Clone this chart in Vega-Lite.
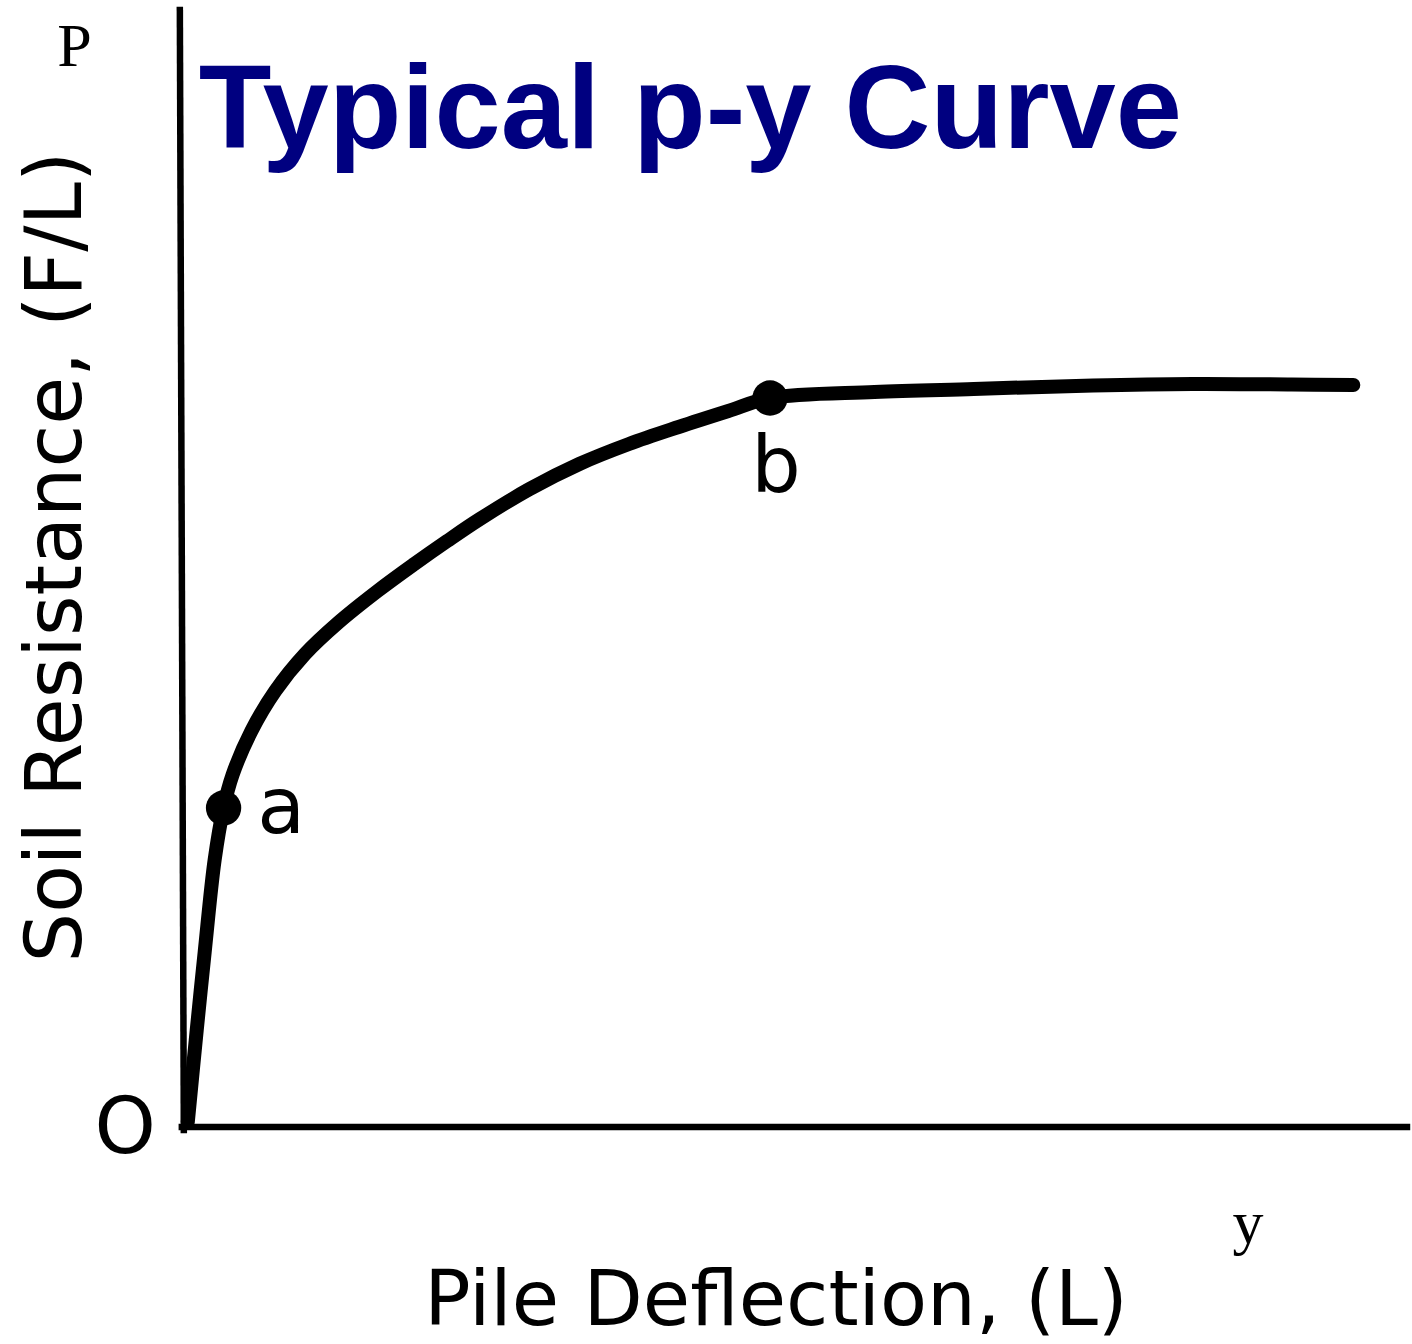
{
  "$schema": "https://vega.github.io/schema/vega-lite/v6.json",
  "width": 1412,
  "height": 1344,
  "autosize": {"type": "fit", "contains": "padding"},
  "padding": 0,
  "background": "white",
  "view": {"stroke": null},
  "datasets": {
    "curve": [
      {"deflection": 0.3, "resistance": 0.5},
      {"deflection": 1.2, "resistance": 9.7},
      {"deflection": 2.0, "resistance": 17.5},
      {"deflection": 3.0, "resistance": 26.7},
      {"deflection": 3.9, "resistance": 31.9},
      {"deflection": 4.8, "resistance": 35.2},
      {"deflection": 6.7, "resistance": 39.6},
      {"deflection": 9.1, "resistance": 43.6},
      {"deflection": 12.1, "resistance": 47.3},
      {"deflection": 15.4, "resistance": 50.4},
      {"deflection": 19.4, "resistance": 53.6},
      {"deflection": 23.1, "resistance": 56.3},
      {"deflection": 26.4, "resistance": 58.6},
      {"deflection": 29.7, "resistance": 60.8},
      {"deflection": 34.7, "resistance": 63.8},
      {"deflection": 39.7, "resistance": 66.3},
      {"deflection": 44.7, "resistance": 68.3},
      {"deflection": 49.7, "resistance": 70.0},
      {"deflection": 54.7, "resistance": 71.6},
      {"deflection": 58.9, "resistance": 72.9},
      {"deflection": 69.4, "resistance": 73.5},
      {"deflection": 79.4, "resistance": 73.8},
      {"deflection": 91.4, "resistance": 74.15},
      {"deflection": 101.4, "resistance": 74.3},
      {"deflection": 111.4, "resistance": 74.25},
      {"deflection": 117.6, "resistance": 74.2}
    ],
    "points": [
      {"deflection": 3.9, "resistance": 31.9, "name": "a"},
      {"deflection": 58.9, "resistance": 72.9, "name": "b"}
    ],
    "axes": [
      {"x": -0.5, "y": 111.7, "x2": -0.1, "y2": -0.3},
      {"x": -0.3, "y": 0, "x2": 123, "y2": 0}
    ],
    "pointLabels": [
      {"x": 9.7, "y": 29.4, "label": "a"},
      {"x": 59.5, "y": 63.5, "label": "b"},
      {"x": -6.0, "y": -2.6, "label": "O"}
    ],
    "serifLabels": [
      {"x": -11.1, "y": 106.1, "label": "P"},
      {"x": 107.0, "y": -11.6, "label": "y"}
    ],
    "xTitle": [{"x": 59.5, "y": -19.8, "label": "Pile Deflection, (L)"}],
    "yTitle": [{"x": -10.4, "y": 57.0, "label": "Soil Resistance, (F/L)"}],
    "heading": [{"x": 1.4, "y": 97.9, "label": "Typical p-y Curve"}]
  },
  "layer": [
    {
      "data": {"name": "axes"},
      "mark": {"type": "rule", "color": "black", "strokeWidth": 6.5, "strokeCap": "square"},
      "encoding": {
        "x": {"field": "x", "type": "quantitative", "scale": {"domain": [-18.6, 122.6], "nice": false, "zero": false}, "axis": null},
        "x2": {"field": "x2"},
        "y": {"field": "y", "type": "quantitative", "scale": {"domain": [-21.7, 112.7], "nice": false, "zero": false}, "axis": null},
        "y2": {"field": "y2"}
      }
    },
    {
      "data": {"name": "curve"},
      "mark": {"type": "line", "color": "black", "strokeWidth": 14, "interpolate": "catmull-rom", "strokeCap": "round", "strokeJoin": "round"},
      "encoding": {
        "x": {"field": "deflection", "type": "quantitative", "scale": {"domain": [-18.6, 122.6], "nice": false, "zero": false}, "axis": null},
        "y": {"field": "resistance", "type": "quantitative", "scale": {"domain": [-21.7, 112.7], "nice": false, "zero": false}, "axis": null}
      }
    },
    {
      "data": {"name": "points"},
      "mark": {"type": "circle", "color": "black", "opacity": 1, "size": 1250},
      "encoding": {
        "x": {"field": "deflection", "type": "quantitative", "scale": {"domain": [-18.6, 122.6], "nice": false, "zero": false}, "axis": null},
        "y": {"field": "resistance", "type": "quantitative", "scale": {"domain": [-21.7, 112.7], "nice": false, "zero": false}, "axis": null}
      }
    },
    {
      "data": {"name": "pointLabels"},
      "mark": {"type": "text", "font": "DejaVu Sans", "fontSize": 78, "color": "black", "align": "center", "baseline": "alphabetic"},
      "encoding": {
        "x": {"field": "x", "type": "quantitative", "scale": {"domain": [-18.6, 122.6], "nice": false, "zero": false}, "axis": null},
        "y": {"field": "y", "type": "quantitative", "scale": {"domain": [-21.7, 112.7], "nice": false, "zero": false}, "axis": null},
        "text": {"field": "label"}
      }
    },
    {
      "data": {"name": "serifLabels"},
      "mark": {"type": "text", "font": "Liberation Serif", "fontSize": 62, "color": "black", "align": "center", "baseline": "alphabetic"},
      "encoding": {
        "x": {"field": "x", "type": "quantitative", "scale": {"domain": [-18.6, 122.6], "nice": false, "zero": false}, "axis": null},
        "y": {"field": "y", "type": "quantitative", "scale": {"domain": [-21.7, 112.7], "nice": false, "zero": false}, "axis": null},
        "text": {"field": "label"}
      }
    },
    {
      "data": {"name": "xTitle"},
      "mark": {"type": "text", "font": "DejaVu Sans", "fontSize": 77, "color": "black", "align": "center", "baseline": "alphabetic"},
      "encoding": {
        "x": {"field": "x", "type": "quantitative", "scale": {"domain": [-18.6, 122.6], "nice": false, "zero": false}, "axis": null},
        "y": {"field": "y", "type": "quantitative", "scale": {"domain": [-21.7, 112.7], "nice": false, "zero": false}, "axis": null},
        "text": {"field": "label"}
      }
    },
    {
      "data": {"name": "yTitle"},
      "mark": {"type": "text", "font": "DejaVu Sans", "fontSize": 78, "color": "black", "align": "center", "baseline": "alphabetic", "angle": 270},
      "encoding": {
        "x": {"field": "x", "type": "quantitative", "scale": {"domain": [-18.6, 122.6], "nice": false, "zero": false}, "axis": null},
        "y": {"field": "y", "type": "quantitative", "scale": {"domain": [-21.7, 112.7], "nice": false, "zero": false}, "axis": null},
        "text": {"field": "label"}
      }
    },
    {
      "data": {"name": "heading"},
      "mark": {"type": "text", "font": "Liberation Sans", "fontWeight": "bold", "fontSize": 119, "color": "#000080", "align": "left", "baseline": "alphabetic"},
      "encoding": {
        "x": {"field": "x", "type": "quantitative", "scale": {"domain": [-18.6, 122.6], "nice": false, "zero": false}, "axis": null},
        "y": {"field": "y", "type": "quantitative", "scale": {"domain": [-21.7, 112.7], "nice": false, "zero": false}, "axis": null},
        "text": {"field": "label"}
      }
    }
  ]
}
